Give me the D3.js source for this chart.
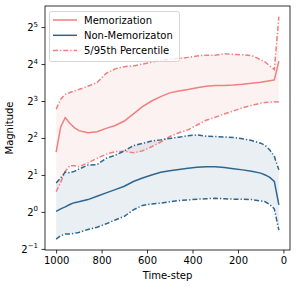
<!DOCTYPE html>
<html lang="en">
<head>
<meta charset="utf-8">
<title>Magnitude vs time-step</title>
<script src="https://cdn.jsdelivr.net/npm/d3@7"></script>
<style>
  body { margin: 0; background: #fff; }
  svg { display: block; font-family: "DejaVu Sans", sans-serif; }
</style>
</head>
<body>
<script>
// time steps (x)
var timeSteps = [1000, 980, 960, 940, 920, 900, 860, 820, 780, 740, 700, 660, 620, 580, 540,
                 500, 460, 420, 380, 340, 300, 260, 220, 180, 140, 100, 80, 60, 40, 20];

// memorization: mean, 5th and 95th percentile
var memMean = [3.07, 4.92, 5.86, 5.28, 4.86, 4.59, 4.41, 4.50, 4.79, 5.06, 5.50, 6.28, 7.21, 8.0, 8.69,
               9.32, 9.65, 9.92, 10.27, 10.56, 10.70, 10.70, 10.78, 10.93, 11.16, 11.39, 11.55, 11.71, 11.88, 16.91];
var memHigh = [6.87, 8.28, 9.06, 9.38, 9.65, 9.92, 10.56, 11.31, 13.45, 14.62, 15.24, 15.45, 16.0, 16.56, 17.15,
               17.51, 17.75, 18.13, 18.64, 18.90, 18.90, 19.43, 19.16, 19.03, 18.77, 17.39, 16.56, 15.45, 14.42, 38.85];
var memLow  = [1.46, 1.74, 2.14, 2.38, 2.38, 2.33, 2.51, 2.73, 2.95, 3.10, 3.12, 3.03, 3.14, 3.39, 3.71,
               4.11, 4.41, 4.66, 5.10, 5.58, 5.90, 6.28, 6.63, 7.06, 7.36, 7.67, 7.78, 7.84, 7.89, 7.84];

// non-memorization
var nonMean = [1.01, 1.06, 1.10, 1.15, 1.19, 1.21, 1.26, 1.34, 1.43, 1.52, 1.62, 1.77, 1.89, 2.0, 2.10,
               2.16, 2.22, 2.27, 2.31, 2.33, 2.33, 2.30, 2.25, 2.20, 2.14, 2.07, 2.0, 1.91, 1.77, 1.14];
var nonHigh = [1.72, 1.89, 2.11, 2.08, 2.14, 2.23, 2.41, 2.43, 2.73, 2.89, 3.14, 3.46, 3.61, 3.78, 3.86,
               3.97, 4.06, 4.17, 4.23, 4.14, 4.11, 4.08, 4.03, 3.95, 3.81, 3.63, 3.48, 3.20, 2.83, 2.20];
var nonLow  = [0.60, 0.64, 0.66, 0.66, 0.67, 0.68, 0.72, 0.75, 0.80, 0.86, 0.92, 1.04, 1.13, 1.16, 1.18,
               1.21, 1.24, 1.25, 1.27, 1.28, 1.29, 1.28, 1.27, 1.27, 1.26, 1.23, 1.21, 1.15, 1.06, 0.71];

var xTicks = [1000, 800, 600, 400, 200, 0];
var yExponents = [-1, 0, 1, 2, 3, 4, 5];
var legendLabels = ["Memorization", "Non-Memorizaton", "5/95th Percentile"];

var red = "#f07f7f", blue = "#2e6690";

var w = 297, h = 287;
var mLeft = 45, mRight = 290, mTop = 6, mBottom = 250;

var svg = d3.select("body").append("svg").attr("width", w).attr("height", h);

var x = d3.scaleLinear().domain([1049, -29]).range([mLeft, mRight]);
var y = d3.scaleLog().base(2).domain([Math.pow(2, -1.03), Math.pow(2, 5.57)]).range([mBottom, mTop]);

function band(lo, hi) {
  return d3.area()
    .x(function(d, i) { return x(timeSteps[i]); })
    .y0(function(d, i) { return y(lo[i]); })
    .y1(function(d, i) { return y(hi[i]); })(timeSteps);
}
function line(vals) {
  return d3.line()
    .x(function(d, i) { return x(timeSteps[i]); })
    .y(function(d) { return y(d); })(vals);
}

// shaded percentile bands
svg.append("path").attr("d", band(memLow, memHigh)).attr("fill", red).attr("fill-opacity", 0.1);
svg.append("path").attr("d", band(nonLow, nonHigh)).attr("fill", blue).attr("fill-opacity", 0.1);

var dash = "5,2,1.3,2";
var series = [
  [memMean, red, null], [nonMean, blue, null],
  [memHigh, red, dash], [memLow, red, dash],
  [nonHigh, blue, dash], [nonLow, blue, dash]
];
series.forEach(function(s) {
  svg.append("path").attr("d", line(s[0]))
    .attr("fill", "none").attr("stroke", s[1]).attr("stroke-width", 1.5)
    .attr("stroke-dasharray", s[2]);
});

// axes
var xAxis = svg.append("g").attr("transform", "translate(0," + mBottom + ")")
  .call(d3.axisBottom(x).tickValues(xTicks).tickFormat(d3.format("d")).tickSize(3.5).tickPadding(3.5));
var yAxis = svg.append("g").attr("transform", "translate(" + mLeft + ",0)")
  .call(d3.axisLeft(y).tickValues(yExponents.map(function(e) { return Math.pow(2, e); }))
    .tickSize(3.5).tickPadding(3.5).tickFormat(""));
[xAxis, yAxis].forEach(function(a) {
  a.select(".domain").remove();
  a.selectAll("line").attr("stroke", "#000").attr("stroke-width", 0.8);
});
xAxis.selectAll("text").attr("font-size", 10).attr("fill", "#000").attr("font-family", "DejaVu Sans");

yExponents.forEach(function(e) {
  var t = svg.append("text").attr("x", mLeft - 7).attr("y", y(Math.pow(2, e)) + 4)
    .attr("text-anchor", "end").attr("font-size", 10).attr("fill", "#000");
  t.append("tspan").text("2");
  t.append("tspan").attr("dy", -4.5).attr("font-size", 7).text(e < 0 ? "\u2212" + (-e) : e);
});

// frame
svg.append("rect").attr("x", mLeft).attr("y", mTop).attr("width", mRight - mLeft).attr("height", mBottom - mTop)
  .attr("fill", "none").attr("stroke", "#000").attr("stroke-width", 0.8);

svg.append("text").attr("x", (mLeft + mRight) / 2).attr("y", 279).attr("text-anchor", "middle")
  .attr("font-size", 10).text("Time-step");
svg.append("text").attr("transform", "translate(13," + (mTop + mBottom) / 2 + ") rotate(-90)")
  .attr("text-anchor", "middle").attr("font-size", 10).text("Magnitude");

// legend
var lg = svg.append("g");
lg.append("rect").attr("x", 49.5).attr("y", 11.5).attr("width", 130).attr("height", 50).attr("rx", 2)
  .attr("fill", "#fff").attr("fill-opacity", 0.8).attr("stroke", "#ccc").attr("stroke-width", 0.8);
var lgStyles = [[red, null], [blue, null], [red, dash]];
legendLabels.forEach(function(lbl, i) {
  var ly = 20 + i * 15.3;
  lg.append("line").attr("x1", 53).attr("x2", 77).attr("y1", ly).attr("y2", ly)
    .attr("stroke", lgStyles[i][0]).attr("stroke-width", 1.5).attr("stroke-dasharray", lgStyles[i][1]);
  lg.append("text").attr("x", 84).attr("y", ly + 3.5).attr("font-size", 10).text(lbl);
});
</script>
</body>
</html>
